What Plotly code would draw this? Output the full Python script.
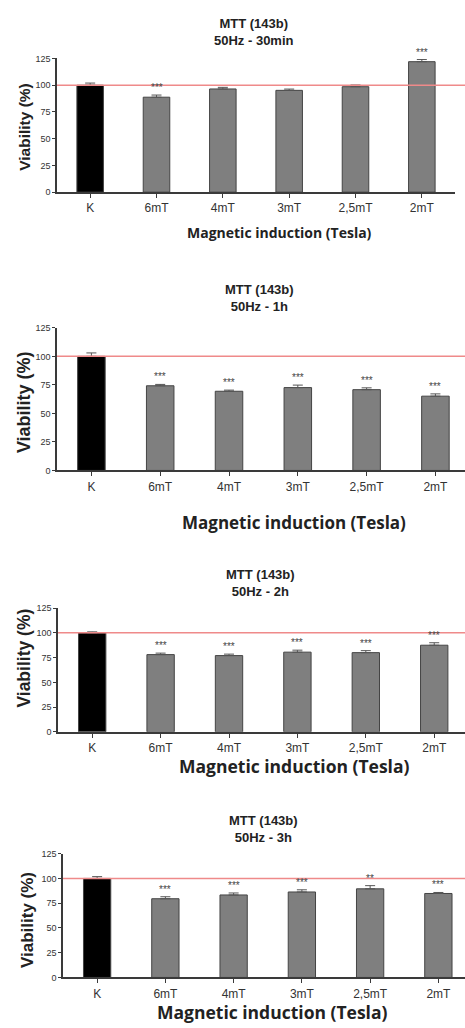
import plotly.graph_objects as go

categories = ["K", "6mT", "4mT", "3mT", "2,5mT", "2mT"]

titles = ["MTT (143b)<br>50Hz - 30min", "MTT (143b)<br>50Hz - 1h",
          "MTT (143b)<br>50Hz - 2h", "MTT (143b)<br>50Hz - 3h"]

vals_30min = [100, 88.8, 96.5, 95.2, 98.6, 122.0]
err_30min = [2.0, 2.0, 1.5, 1.2, 1.6, 2.0]
stars_30min = ["", "***", "", "", "", "***"]

vals_1h = [100, 74.2, 69.4, 72.6, 70.8, 65.1]
err_1h = [3.0, 1.2, 1.0, 2.2, 1.6, 2.0]
stars_1h = ["", "***", "***", "***", "***", "***"]

vals_2h = [100, 78.0, 77.0, 80.5, 80.0, 87.5]
err_2h = [1.0, 1.5, 1.5, 2.0, 2.0, 2.5]
stars_2h = ["", "***", "***", "***", "***", "***"]

vals_3h = [100, 79.5, 83.3, 86.3, 89.5, 84.8]
err_3h = [1.8, 2.0, 2.0, 2.2, 3.2, 1.0]
stars_3h = ["", "***", "***", "***", "**", "***"]

xlabel = "Magnetic induction (Tesla)"
ylabel = "Viability (%)"
yticks = [0, 25, 50, 75, 100, 125]

W, H = 465, 1028
def fy(px):
    return 1 - px / H
def fx(px):
    return px / W

# layout geometry per panel (pixels)
panels = [
    dict(v=vals_30min, e=err_30min, s=stars_30min, x0=57, x1=455, xr=5.5, ytop=54, ybot=189,
         tx=254, ty=27, ylx=25, yly=123, xtx=279, xty=230, xtsize=14, ytsize=15.5),
    dict(v=vals_1h, e=err_1h, s=stars_1h, x0=57, x1=465, xr=5.43, ytop=326, ybot=470,
         tx=259, ty=296, ylx=24, yly=401, xtx=294, xty=523, xtsize=17, ytsize=18),
    dict(v=vals_2h, e=err_2h, s=stars_2h, x0=58, x1=465, xr=5.45, ytop=609, ybot=734,
         tx=260, ty=584, ylx=24, yly=660, xtx=294, xty=768, xtsize=17.5, ytsize=17.5),
    dict(v=vals_3h, e=err_3h, s=stars_3h, x0=63, x1=465, xr=5.39, ytop=857, ybot=982,
         tx=263, ty=832, ylx=27, yly=924, xtx=272, xty=1017, xtsize=17.5, ytsize=17),
]

fig = go.Figure()
annotations = []
shapes = []
axis_col = "#3a3a3a"

for i, p in enumerate(panels):
    n = i + 1
    xa = "x" if n == 1 else f"x{n}"
    ya = "y" if n == 1 else f"y{n}"
    colors = ["#000000"] + ["#7f7f7f"] * 5
    fig.add_trace(go.Bar(
        x=categories, y=p["v"], xaxis=xa, yaxis=ya,
        marker=dict(color=colors, line=dict(color="#444444", width=1)),
        width=0.4,
        error_y=dict(type="data", array=p["e"], arrayminus=[0] * 6, symmetric=False,
                     color="#555555", thickness=1, width=5),
        showlegend=False, hoverinfo="skip",
    ))
    fig.update_layout(**{
        ("xaxis" if n == 1 else f"xaxis{n}"): dict(
            domain=[fx(p["x0"]), min(1, fx(p["x1"]))], anchor=ya,
            range=[-0.5, p["xr"]], type="category", categoryorder="array", categoryarray=categories,
            showline=True, linecolor=axis_col, linewidth=1.5,
            ticks="outside", ticklen=4, tickcolor=axis_col, tickwidth=1.2,
            tickfont=dict(family="Liberation Sans", size=12, color="#333"),
            showgrid=False, zeroline=False, fixedrange=True),
        ("yaxis" if n == 1 else f"yaxis{n}"): dict(
            domain=[fy(p["ybot"]), fy(p["ytop"])], anchor=xa,
            range=[0, 125], tickvals=yticks,
            showline=True, linecolor=axis_col, linewidth=1.5,
            ticks="outside", ticklen=3, tickcolor=axis_col, tickwidth=1.2,
            tickfont=dict(family="Liberation Sans", size=9, color="#333"),
            showgrid=False, zeroline=False, fixedrange=True),
    })
    # reference line at 100 %
    shapes.append(dict(type="line", xref="paper", yref=ya,
                       x0=fx(p["x0"]), x1=1, y0=100, y1=100,
                       line=dict(color="#ef8a8a", width=1.5)))
    # significance stars
    for c, v, e, s in zip(categories, p["v"], p["e"], p["s"]):
        if s:
            annotations.append(dict(x=c, y=v + e, xref=xa, yref=ya, text=s, showarrow=False,
                                    yanchor="bottom", yshift=0,
                                    font=dict(family="Liberation Sans", size=10, color="#444")))
    # title
    annotations.append(dict(x=fx(p["tx"]), y=fy(p["ty"]), xref="paper", yref="paper",
                            text="<b>" + titles[i] + "</b>", showarrow=False,
                            xanchor="center", yanchor="middle",
                            font=dict(family="Liberation Sans", size=13, color="#222")))
    # y label
    annotations.append(dict(x=fx(p["ylx"]), y=fy(p["yly"]), xref="paper", yref="paper",
                            text="<b>" + ylabel + "</b>", showarrow=False, textangle=-90,
                            xanchor="center", yanchor="middle",
                            font=dict(family="Liberation Sans", size=p["ytsize"], color="#222")))
    # x label
    annotations.append(dict(x=fx(p["xtx"]), y=fy(p["xty"]), xref="paper", yref="paper",
                            text="<b>" + xlabel + "</b>", showarrow=False,
                            xanchor="center", yanchor="middle",
                            font=dict(family="Open Sans", size=p["xtsize"], color="#222")))

fig.update_layout(width=W, height=H, margin=dict(l=0, r=0, t=0, b=0),
                  paper_bgcolor="white", plot_bgcolor="white",
                  bargap=0.6, annotations=annotations, shapes=shapes)

fig.write_html("out.html", config={"displayModeBar": False},
               post_script="document.body.style.margin='0px';document.body.style.overflow='hidden';")
